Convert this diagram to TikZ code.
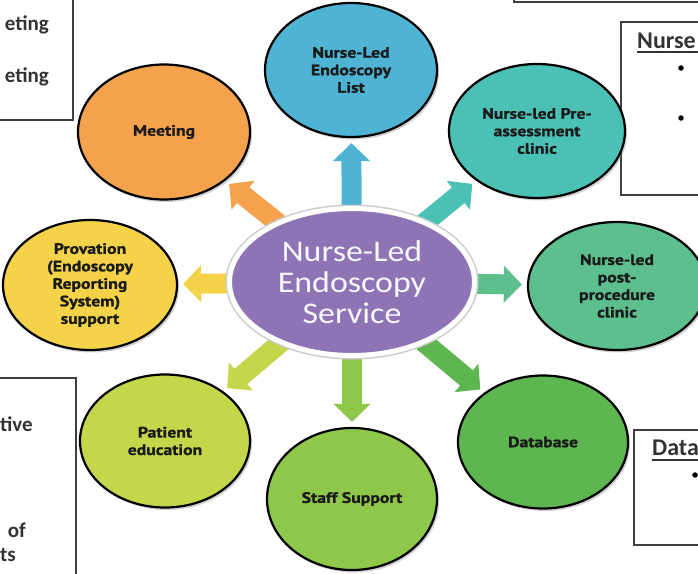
\documentclass[tikz,border=0pt]{standalone}
\usepackage{fontspec}
\setmainfont{Carlito}
\newfontfamily\circfont{PT Sans}[FakeStretch=1.18, BoldFeatures={FakeBold=1.2}]
\newfontfamily\hubfont{Carlito}[FakeStretch=1.13]
\usetikzlibrary{shapes.geometric,arrows.meta,shadows}
\definecolor{cblue}{HTML}{4FB3D3}
\definecolor{cteal}{HTML}{4BC1B6}
\definecolor{cmint}{HTML}{5CBF8D}
\definecolor{cgreen}{HTML}{5DB64F}
\definecolor{clime}{HTML}{8FC74A}
\definecolor{cyg}{HTML}{C4D64A}
\definecolor{cyellow}{HTML}{F4D24A}
\definecolor{corange}{HTML}{F4A24E}
\definecolor{cpurple}{HTML}{8F74B5}
\definecolor{ctext}{HTML}{1A1A1A}
\definecolor{boxtext}{HTML}{333333}
\pgfdeclarelayer{bg}
\pgfsetlayers{bg,main}
\begin{document}
\begin{tikzpicture}[x=1pt,y=-1pt,
  hub/.style={ellipse, minimum width=245pt, minimum height=147pt, inner sep=0pt,
    fill=cpurple, draw=white, line width=5pt,
    preaction={draw=black!20, line width=8pt},
    text=white!94!cpurple, align=center,
    font=\hubfont\fontsize{30}{31}\selectfont},
  circ/.style={ellipse, draw=black, line width=2.2pt, inner sep=0pt,
    align=center, text=ctext,
    font=\circfont\bfseries\fontsize{15}{17.5}\selectfont,
    drop shadow={shadow xshift=2pt, shadow yshift=-2.5pt, opacity=0.35}},
  blockarrow/.style={line width=20pt, -{Triangle[width=36pt,length=18pt]},
    shorten >=5pt, shorten <=-6pt},
  boxline/.style={draw=black!75, line width=1.5pt},
  boxtxt/.style={inner sep=0pt, text=boxtext, font=\bfseries\fontsize{21}{24}\selectfont},
  boxhead/.style={boxtxt, font=\bfseries\fontsize{24}{28}\selectfont},
  bullet/.style={circle, fill=black, inner sep=0pt, minimum size=5.5pt}
]
\useasboundingbox (0,0) rectangle (698,573);

% side boxes (partly outside the picture)
\draw[boxline] (-10,-10) rectangle (73,120);
\draw[boxline] (514,-20) rectangle (720,2);
\draw[boxline] (621,22) rectangle (720,195);
\draw[boxline] (-10,378) rectangle (76,590);
\draw[boxline] (634,430) rectangle (720,545);

\node[boxtxt, anchor=base east] (tl1) at (49,30) {eting};
\node[boxtxt, anchor=base east] (tl2) at (49,82) {eting};
\node[boxhead, anchor=base west] (nh) at (637,48) {Nurse};
\draw[black!80, line width=1.4pt] (nh.base west) ++(0,4) -- ++(70,0);
\node[bullet] (nb1) at (681,68) {};
\node[bullet] (nb2) at (681,118) {};
\node[boxhead, anchor=base west] (dh) at (652,455) {Data};
\draw[black!80, line width=1.4pt] (dh.base west) ++(0,5) -- ++(55,0);
\node[bullet] (db1) at (695,475) {};
\node[boxtxt, anchor=base east] (bl1) at (33,431) {tive};
\node[boxtxt, anchor=base east] (bl2) at (26,537) {of};
\node[boxtxt, anchor=base east] (bl3) at (16,561) {ts};

% hub
\node[hub] (c) at (352,282) {Nurse-Led\\Endoscopy\\Service};

% outer circles
\node[circ, fill=cblue, minimum width=172pt, minimum height=134pt] (top) at (351,70)
  {Nurse-Led\\Endoscopy\\List};
\node[circ, fill=cteal, minimum width=176pt, minimum height=134pt] (pre) at (537,131)
  {Nurse-led Pre-\\assessment\\clinic};
\node[circ, fill=cmint, minimum width=178pt, minimum height=128pt] (post) at (617,286)
  {Nurse-led\\post-\\procedure\\clinic};
\node[circ, fill=cgreen, minimum width=170pt, minimum height=133pt] (db) at (543,442)
  {Database};
\node[circ, fill=clime, minimum width=170pt, minimum height=142pt] (staff) at (352,499)
  {Staff Support};
\node[circ, fill=cyg, minimum width=170pt, minimum height=133pt] (pat) at (165,441)
  {Patient\\education};
\node[circ, fill=cyellow, minimum width=174pt, minimum height=130pt] (prov) at (90,285)
  {Provation\\(Endoscopy\\Reporting\\System)\\support};
\node[circ, fill=corange, minimum width=172pt, minimum height=135pt] (meet) at (164,132)
  {Meeting};

\begin{pgfonlayer}{bg}
\fill[white] (0,0) rectangle (698,573);
\draw[blockarrow, cblue] (c) -- (top);
\draw[blockarrow, cteal] (c) -- (pre);
\draw[blockarrow, cmint] (c) -- (post);
\draw[blockarrow, cgreen] (c) -- (db);
\draw[blockarrow, clime] (c) -- (staff);
\draw[blockarrow, cyg] (c) -- (pat);
\draw[blockarrow, cyellow] (c) -- (prov);
\draw[blockarrow, corange] (c) -- (meet);
\end{pgfonlayer}
\end{tikzpicture}
\end{document}
